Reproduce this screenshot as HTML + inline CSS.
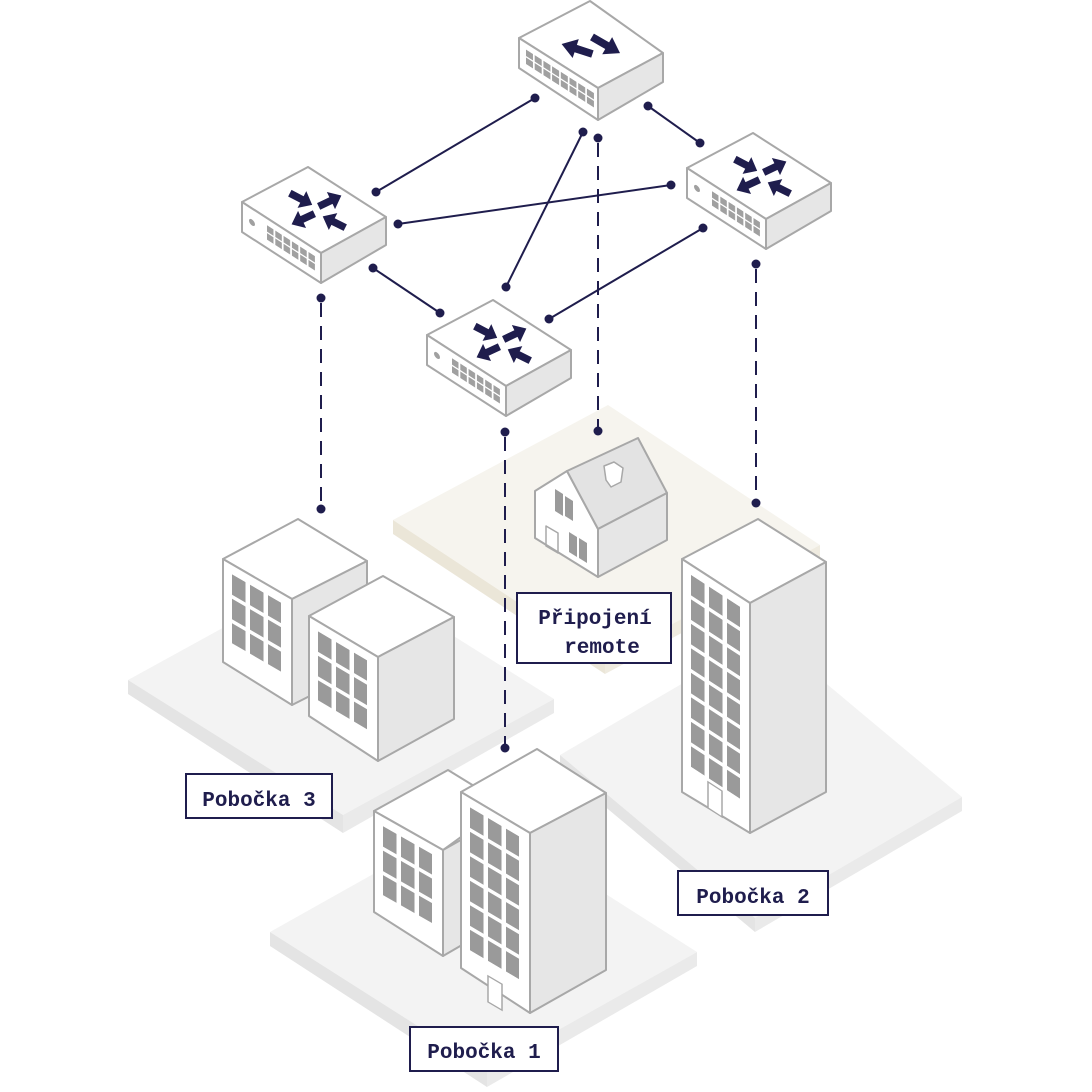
<!DOCTYPE html>
<html><head><meta charset="utf-8"><style>
html,body{margin:0;padding:0;background:#fff;}
svg{display:block;}
.lbl{font-family:"Liberation Mono",monospace;font-weight:bold;font-size:21px;fill:#1f1d4d;}
</style></head><body>
<svg width="1092" height="1092" viewBox="0 0 1092 1092" xmlns="http://www.w3.org/2000/svg">
<defs>
<pattern id="win" x="9" y="10" width="18" height="24.5" patternUnits="userSpaceOnUse"><rect width="13.5" height="20.5" fill="#9a9a9a"/></pattern>
<pattern id="portR" x="25" y="7" width="8.3" height="8" patternUnits="userSpaceOnUse"><rect width="6.5" height="6.5" fill="#a0a0a0"/></pattern>
<pattern id="portS" x="7" y="7" width="8.7" height="8" patternUnits="userSpaceOnUse"><rect width="7" height="6.5" fill="#a0a0a0"/></pattern>
<path id="arr" d="M-12,-3.5 L1,-3.5 L1,-9 L12,0 L1,9 L1,3.5 L-12,3.5Z" fill="#1f1d4d"/>
<g id="router">
<polygon points="242,202 308,167 386,217 321,253" fill="#fff" stroke="#a8a8a8" stroke-width="2" stroke-linejoin="round"/>
<polygon points="242,202 321,253 321,283 242,232" fill="#fff" stroke="#a8a8a8" stroke-width="2" stroke-linejoin="round"/>
<polygon points="321,253 386,217 386,245 321,283" fill="#e6e6e6" stroke="#a8a8a8" stroke-width="2" stroke-linejoin="round"/>
<g transform="matrix(1,0.645,0,1,242,202)">
<rect x="25" y="7" width="48" height="15" fill="url(#portR)"/>
<circle cx="10" cy="14" r="3" fill="#a0a0a0"/>
</g>
<use href="#arr" transform="translate(301,199) rotate(27.5) scale(1.05)"/>
<use href="#arr" transform="translate(330,201) rotate(-25.6) scale(1.05)"/>
<use href="#arr" transform="translate(303,219) rotate(155) scale(1.05)"/>
<use href="#arr" transform="translate(334,222) rotate(206.6) scale(1.05)"/>
</g>
</defs>

<polygon points="393,520 608,405 820,545 605,660" fill="#f6f4ee"/>
<polygon points="393,520 605,660 605,674 393,534" fill="#ebe6d8"/>
<polygon points="605,660 820,545 820,559 605,674" fill="#efebe0"/>

<polygon points="128,680 339,564 554,699 343,815" fill="#f3f3f3"/>
<polygon points="128,680 343,815 343,833 128,694" fill="#e4e4e4"/>
<polygon points="343,815 554,699 554,713 343,833" fill="#eaeaea"/>
<polygon points="560,755 767,634 962,797 755,918" fill="#f3f3f3"/>
<polygon points="560,755 755,918 755,932 560,769" fill="#e4e4e4"/>
<polygon points="755,918 962,797 962,811 755,932" fill="#eaeaea"/>
<polygon points="270,932 480,814 697,952 487,1070" fill="#f3f3f3"/>
<polygon points="270,932 487,1070 487,1087 270,946" fill="#e4e4e4"/>
<polygon points="487,1070 697,952 697,966 487,1087" fill="#eaeaea"/>

<g stroke="#a8a8a8" stroke-width="2" stroke-linejoin="round">
<polygon points="535,491 567,471 598,529 598,577 535,538" fill="#fff"/>
<polygon points="567,471 638,438 667,493 598,529" fill="#e3e3e3"/>
<polygon points="598,529 667,493 667,540 598,577" fill="#e6e6e6"/>
<polygon points="604,466 614,462 623,468 621,482 611,487 606,480" fill="#fff" stroke-width="1.5"/>
<polygon points="546,526 558,533 558,553 546,546" fill="none" stroke-width="1.5"/>

<polygon points="223,559 298,519 367,561 292,599" fill="#fff"/>
<polygon points="223,559 292,599 292,705 223,662" fill="#fff"/>
<polygon points="292,599 367,561 367,667 292,705" fill="#e6e6e6"/>
<polygon points="309,616 383,576 454,617 378,657" fill="#fff"/>
<polygon points="309,616 378,657 378,761 309,716" fill="#fff"/>
<polygon points="378,657 454,617 454,719 378,761" fill="#e6e6e6"/>

<polygon points="682,559 758,519 826,562 750,603" fill="#fff"/>
<polygon points="682,559 750,603 750,833 682,792" fill="#fff"/>
<polygon points="750,603 826,562 826,792 750,833" fill="#e6e6e6"/>

<polygon points="374,811 448,770 505,805 443,850" fill="#fff"/>
<polygon points="374,811 443,850 443,956 374,912" fill="#fff"/>
<polygon points="443,850 505,815 505,920 443,956" fill="#e6e6e6"/>
<polygon points="461,792 537,749 606,793 530,833" fill="#fff"/>
<polygon points="461,792 530,833 530,1013 461,968" fill="#fff"/>
<polygon points="530,833 606,793 606,970 530,1013" fill="#e6e6e6"/>
</g>

<g fill="#9a9a9a">
<polygon points="555,489 563,494 563,516 555,511"/>
<polygon points="565,496 573,501 573,521 565,516"/>
<polygon points="569,532 577,537 577,557 569,552"/>
<polygon points="579,538 587,543 587,563 579,558"/>
</g>

<g transform="matrix(1,0.58,0,1,223,559)"><rect x="9" y="10" width="49" height="69" fill="url(#win)"/></g>
<g transform="matrix(1,0.59,0,1,309,616)"><rect x="9" y="10" width="49" height="69" fill="url(#win)"/></g>
<g transform="matrix(1,0.57,0,1,374,811)"><rect x="9" y="10" width="49" height="69" fill="url(#win)"/></g>
<g transform="matrix(1,0.59,0,1,461,792)"><rect x="9" y="10" width="49" height="143" fill="url(#win)"/>
<rect x="27" y="168" width="14" height="26" fill="#fff" stroke="#a8a8a8" stroke-width="1.5"/></g>
<g transform="matrix(1,0.65,0,1,682,559)"><rect x="9" y="10" width="49" height="192" fill="url(#win)"/>
<rect x="26" y="206" width="14" height="26" fill="#fff" stroke="#a8a8a8" stroke-width="1.5"/></g>

<g stroke="#a8a8a8" stroke-width="2" stroke-linejoin="round">
<polygon points="519,38 590,1 663,53 598,88" fill="#fff"/>
<polygon points="519,38 598,88 598,120 519,68" fill="#fff"/>
<polygon points="598,88 663,53 663,82 598,120" fill="#e6e6e6"/>
</g>
<g transform="matrix(1,0.64,0,1,519,38)"><rect x="7" y="7" width="68" height="15" fill="url(#portS)"/></g>
<use href="#arr" transform="translate(577,49) rotate(198) scale(1.35,1.1)"/>
<use href="#arr" transform="translate(606,45) rotate(30) scale(1.35,1.1)"/>

<use href="#router"/>
<use href="#router" transform="translate(445,-34)"/>
<use href="#router" transform="translate(185,133)"/>

<g stroke="#1f1d4d" stroke-width="2" fill="none">
<line x1="535" y1="98" x2="376" y2="192"/>
<line x1="648" y1="106" x2="700" y2="143"/>
<line x1="398" y1="224" x2="671" y2="185"/>
<line x1="583" y1="132" x2="506" y2="287"/>
<line x1="373" y1="268" x2="440" y2="313"/>
<line x1="703" y1="228" x2="549" y2="319"/>
<g stroke-dasharray="14 9">
<line x1="321" y1="303" x2="321" y2="505"/>
<line x1="598" y1="143" x2="598" y2="427"/>
<line x1="756" y1="269" x2="756" y2="500"/>
<line x1="505" y1="437" x2="505" y2="745"/>
</g>
</g>
<g fill="#1f1d4d">
<circle cx="535" cy="98" r="4.5"/><circle cx="376" cy="192" r="4.5"/>
<circle cx="648" cy="106" r="4.5"/><circle cx="700" cy="143" r="4.5"/>
<circle cx="398" cy="224" r="4.5"/><circle cx="671" cy="185" r="4.5"/>
<circle cx="583" cy="132" r="4.5"/><circle cx="506" cy="287" r="4.5"/>
<circle cx="373" cy="268" r="4.5"/><circle cx="440" cy="313" r="4.5"/>
<circle cx="703" cy="228" r="4.5"/><circle cx="549" cy="319" r="4.5"/>
<circle cx="321" cy="298" r="4.5"/><circle cx="321" cy="509" r="4.5"/>
<circle cx="598" cy="138" r="4.5"/><circle cx="598" cy="431" r="4.5"/>
<circle cx="756" cy="264" r="4.5"/><circle cx="756" cy="503" r="4.5"/>
<circle cx="505" cy="432" r="4.5"/><circle cx="505" cy="748" r="4.5"/>
</g>

<g fill="#fff" stroke="#1f1d4d" stroke-width="2">
<rect x="517" y="593" width="154" height="70"/>
<rect x="186" y="774" width="146" height="44"/>
<rect x="678" y="871" width="150" height="44"/>
<rect x="410" y="1027" width="148" height="44"/>
</g>
<text class="lbl" x="595" y="624" text-anchor="middle">Připojení</text>
<text class="lbl" x="602" y="653" text-anchor="middle">remote</text>
<text class="lbl" x="259" y="806" text-anchor="middle">Pobočka 3</text>
<text class="lbl" x="753" y="903" text-anchor="middle">Pobočka 2</text>
<text class="lbl" x="484" y="1058" text-anchor="middle">Pobočka 1</text>
</svg>
</body></html>
